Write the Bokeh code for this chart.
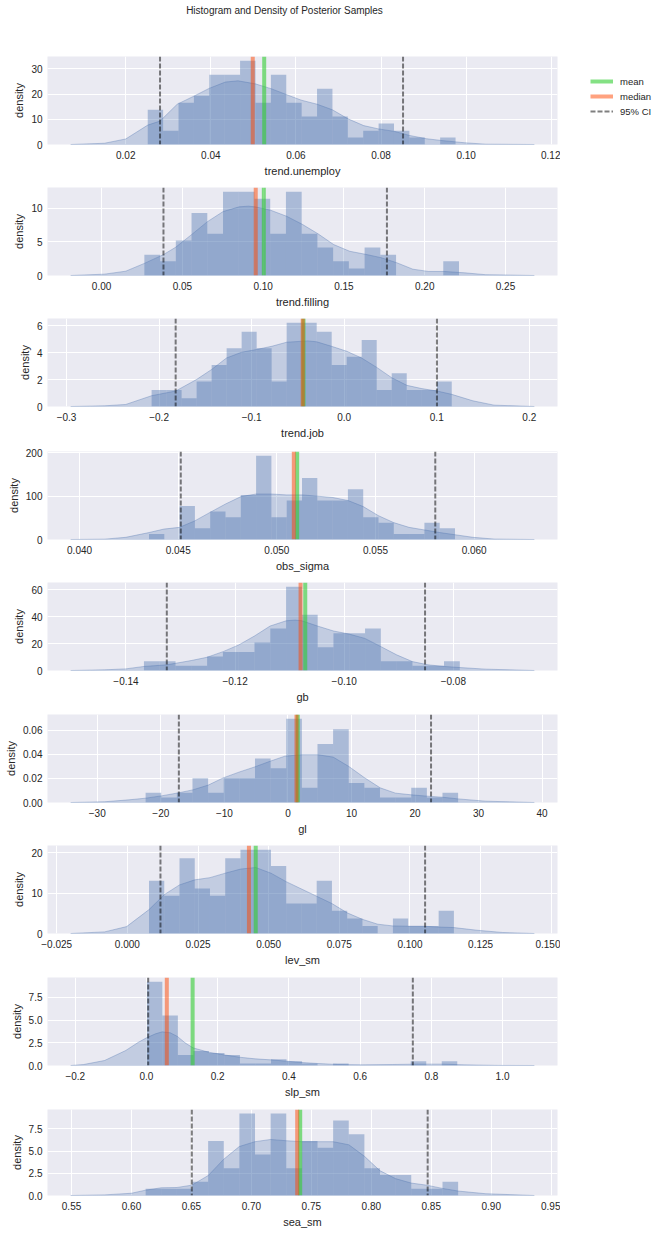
import numpy as np
from bokeh.plotting import figure
from bokeh.models import Range1d, FixedTicker, Span, Legend, LegendItem, Div
from bokeh.layouts import column, gridplot
from bokeh.embed import file_html
from bokeh.resources import INLINE

TITLE = "Histogram and Density of Posterior Samples"
PARAMS = ["trend.unemploy", "trend.filling", "trend.job", "obs_sigma", "gb",
          "gl", "lev_sm", "slp_sm", "sea_sm"]
LEGEND_LABELS = ["mean", "median", "95% CI"]
M = "\u2212"

# ---------- trend.unemploy ----------
unemploy_hist = [13.8, 5.5, 16.6, 19.4, 27.7, 27.7, 33.3, 16.6, 27.7, 16.6,
                 11.1, 22.2, 11.1, 2.8, 5.5, 8.3, 5.5, 2.8, 0.0, 2.8]
unemploy_range = [0.02517, 0.09751]
unemploy_kde_x = [0.00706, 0.01502, 0.0200, 0.02517, 0.02806, 0.0321, 0.03612, 0.03960,
                  0.04338, 0.04637, 0.05045, 0.05413, 0.05781, 0.06129, 0.06498, 0.06856,
                  0.07224, 0.07592, 0.07940, 0.08318, 0.08667, 0.09065, 0.09413, 0.09960,
                  0.10458, 0.11602]
unemploy_kde_y = [0.0, 0.5, 2.2, 7.7, 9.3, 16.0, 19.3, 22.3, 24.8, 25.3, 24.1, 22.2,
                  19.8, 17.6, 16.0, 13.8, 10.2, 7.5, 6.2, 5.2, 3.6, 2.3, 1.6, 0.7, 0.13, 0.0]
unemploy_stats = [0.05254, 0.04985, 0.02806, 0.08517]  # mean, median, ci low, ci high
unemploy_xticks = [0.02, 0.04, 0.06, 0.08, 0.10, 0.12]
unemploy_xlabels = ["0.02", "0.04", "0.06", "0.08", "0.10", "0.12"]
unemploy_yticks = [0, 10, 20, 30]
unemploy_ylabels = ["0", "10", "20", "30"]

# ---------- trend.filling ----------
filling_hist = [3.1, 2.1, 5.2, 9.3, 6.2, 12.45, 12.45, 11.4, 6.2, 12.45,
                6.2, 4.15, 2.1, 1.05, 4.15, 3.1, 0.0, 0.0, 0.0, 2.1]
filling_range = [0.02647, 0.2212]
filling_kde_x = [-0.01913, 0.00183, 0.01494, 0.02647, 0.03826, 0.04586, 0.05582, 0.06551,
                 0.07521, 0.08517, 0.0909, 0.09486, 0.10456, 0.11452, 0.12421, 0.13391,
                 0.14361, 0.15356, 0.16326, 0.17296, 0.18265, 0.19261, 0.20231, 0.21200,
                 0.22458, 0.23768, 0.26782]
filling_kde_y = [0.0, 0.2, 0.64, 1.8, 3.1, 4.2, 6.1, 8.0, 9.5, 10.2, 10.3, 10.2, 9.7, 8.8,
                 7.6, 6.2, 4.6, 3.6, 3.15, 2.65, 1.9, 0.94, 0.6, 0.6, 0.4, 0.12, 0.0]
filling_stats = [0.1004, 0.0954, 0.0383, 0.1766]
filling_xticks = [0.0, 0.05, 0.10, 0.15, 0.20, 0.25]
filling_xlabels = ["0.00", "0.05", "0.10", "0.15", "0.20", "0.25"]
filling_yticks = [0, 5, 10]
filling_ylabels = ["0", "5", "10"]

# ---------- trend.job ----------
job_hist = [1.23, 1.23, 0.62, 1.85, 3.08, 4.32, 5.55, 4.32, 1.85, 6.22,
            6.22, 5.55, 3.08, 3.70, 4.93, 1.23, 2.47, 1.23, 1.23, 1.85]
job_range = [-0.2081, 0.1162]
job_kde_x = [-0.29552, -0.25892, -0.23605, -0.20814, -0.18207, -0.15965, -0.14318, -0.12717,
             -0.11070, -0.09469, -0.07822, -0.06221, -0.03934, -0.02973, -0.01372, 0.00274,
             0.01876, 0.03522, 0.05124, 0.06770, 0.08371, 0.10018, 0.11619, 0.13907,
             0.16194, 0.20540]
job_kde_y = [0.0, 0.05, 0.15, 0.8, 1.15, 2.0, 2.75, 3.6, 4.03, 4.23, 4.47, 4.77, 4.87, 4.8,
             4.47, 4.1, 3.6, 2.9, 2.14, 1.57, 1.33, 1.15, 0.9, 0.42, 0.1, 0.0]
job_stats = [-0.0440, -0.0448, -0.1821, 0.1002]
job_xticks = [-0.3, -0.2, -0.1, 0.0, 0.1, 0.2]
job_xlabels = [M + "0.3", M + "0.2", M + "0.1", "0.0", "0.1", "0.2"]
job_yticks = [0, 2, 4, 6]
job_ylabels = ["0", "2", "4", "6"]

# ---------- obs_sigma ----------
sigma_hist = [12.9, 0.0, 77.3, 25.8, 64.5, 51.6, 103.0, 193.5, 51.6, 90.2,
              142.0, 90.2, 90.2, 116.0, 51.6, 38.7, 12.9, 12.9, 38.7, 25.8]
sigma_range = [0.04352, 0.05903]
sigma_kde_x = [0.03955, 0.04127, 0.04234, 0.04352, 0.04427, 0.04506, 0.04584, 0.04663,
               0.04740, 0.04818, 0.04895, 0.04972, 0.05049, 0.05127, 0.05206, 0.05283,
               0.05361, 0.05438, 0.05515, 0.05592, 0.05670, 0.05749, 0.05826, 0.05903,
               0.05994, 0.06101, 0.06305]
sigma_kde_y = [0.0, 0.8, 5.0, 16.0, 24.0, 28.0, 43.0, 63.0, 82.0, 99.0, 105.0, 105.0,
               103.0, 103.0, 100.0, 97.0, 90.0, 76.0, 55.0, 39.0, 28.0, 22.0, 16.0, 11.0,
               5.0, 1.0, 0.0]
sigma_stats = [0.05103, 0.05086, 0.04513, 0.05803]
sigma_xticks = [0.040, 0.045, 0.050, 0.055, 0.060]
sigma_xlabels = ["0.040", "0.045", "0.050", "0.055", "0.060"]
sigma_yticks = [0, 100, 200]
sigma_ylabels = ["0", "100", "200"]

# ---------- gb ----------
gb_hist = [6.9, 6.9, 3.5, 3.5, 10.4, 13.8, 13.8, 20.7, 31.1, 62.2,
           41.4, 17.3, 27.6, 27.6, 31.1, 6.9, 6.9, 3.5, 3.5, 6.9]
gb_range = [-0.13671, -0.07881]
gb_kde_x = [-0.15014, -0.14393, -0.14005, -0.13671, -0.13252, -0.12802, -0.12515, -0.12220,
            -0.11932, -0.11645, -0.11358, -0.11063, -0.10900, -0.10776, -0.10489, -0.10194,
            -0.09907, -0.09620, -0.09325, -0.09038, -0.08750, -0.08463, -0.08168, -0.07881,
            -0.07408, -0.06515]
gb_kde_y = [0.0, 0.5, 1.2, 3.0, 4.2, 7.4, 9.8, 14.0, 19.0, 25.6, 33.0, 36.9, 37.4, 36.9,
            33.0, 29.3, 27.0, 23.8, 17.7, 11.6, 6.6, 4.2, 3.0, 2.2, 1.0, 0.0]
gb_stats = [-0.10714, -0.10800, -0.13252, -0.08518]
gb_xticks = [-0.14, -0.12, -0.10, -0.08]
gb_xlabels = [M + "0.14", M + "0.12", M + "0.10", M + "0.08"]
gb_yticks = [0, 20, 40, 60]
gb_ylabels = ["0", "20", "40", "60"]

# ---------- gl ----------
gl_hist = [0.0081, 0.0041, 0.0081, 0.0203, 0.0081, 0.0203, 0.0203, 0.0366, 0.0285, 0.0698,
           0.0122, 0.0488, 0.0610, 0.0163, 0.0122, 0.0041, 0.0041, 0.0122, 0.0041, 0.0081]
gl_range = [-22.39, 26.78]
gl_kde_x = [-34.18, -28.85, -25.03, -22.39, -19.92, -17.16, -14.99, -12.53, -10.18, -7.59,
            -5.35, -2.73, -0.47, 2.20, 4.66, 7.13, 9.59, 12.06, 14.52, 16.92, 19.39, 21.85,
            24.32, 26.78, 31.11, 38.77]
gl_kde_y = [0.0, 0.0006, 0.0022, 0.0036, 0.0055, 0.0081, 0.0105, 0.0145, 0.0205, 0.0255,
            0.0294, 0.0345, 0.0386, 0.0398, 0.0398, 0.0378, 0.0300, 0.0206, 0.0122, 0.0078,
            0.0064, 0.0053, 0.0044, 0.0030, 0.0011, 0.0]
gl_stats = [1.55, 1.35, -17.16, 22.52]
gl_xticks = [-30, -20, -10, 0, 10, 20, 30, 40]
gl_xlabels = [M + "30", M + "20", M + "10", "0", "10", "20", "30", "40"]
gl_yticks = [0.0, 0.02, 0.04, 0.06]
gl_ylabels = ["0.00", "0.02", "0.04", "0.06"]

# ---------- lev_sm ----------
lev_hist = [13.0, 9.3, 18.6, 11.1, 9.3, 18.6, 20.7, 20.7, 16.7, 7.4,
            7.4, 13.0, 5.6, 3.7, 1.85, 0.0, 3.7, 1.85, 1.85, 5.6]
lev_range = [0.00766, 0.11555]
lev_kde_x = [-0.02006, -0.00807, -0.00028, 0.00766, 0.01306, 0.01845, 0.02385, 0.02924,
             0.03463, 0.04003, 0.04542, 0.05082, 0.05621, 0.06160, 0.06700, 0.07239,
             0.07779, 0.08318, 0.08858, 0.09397, 0.09936, 0.10476, 0.11015, 0.11555,
             0.12379, 0.13278, 0.14401]
lev_kde_y = [0.0, 0.4, 1.7, 5.9, 9.6, 12.0, 13.25, 13.8, 14.9, 15.9, 16.3, 14.9, 12.8,
             11.0, 9.2, 7.4, 5.1, 3.5, 2.3, 1.87, 1.8, 1.8, 1.6, 1.46, 0.8, 0.25, 0.0]
lev_stats = [0.04542, 0.04302, 0.01171, 0.10536]
lev_xticks = [-0.025, 0.0, 0.025, 0.050, 0.075, 0.100, 0.125, 0.150]
lev_xlabels = [M + "0.025", "0.000", "0.025", "0.050", "0.075", "0.100", "0.125", "0.150"]
lev_yticks = [0, 10, 20]
lev_ylabels = ["0", "10", "20"]

# ---------- slp_sm ----------
slp_hist = [9.22, 5.5, 1.15, 1.6, 1.37, 1.15, 0.23, 0.23, 0.69, 0.46,
            0.23, 0.0, 0.23, 0.0, 0.0, 0.0, 0.0, 0.46, 0.0, 0.46]
slp_range = [0.001, 0.8728]
slp_kde_x = [-0.21284, -0.17717, -0.11772, -0.05826, -0.02259, 0.0, 0.02497, 0.04400,
             0.06659, 0.08680, 0.10820, 0.13080, 0.17479, 0.21760, 0.26159, 0.30559,
             0.34958, 0.39239, 0.43639, 0.48038, 0.53627, 0.60761, 0.69084, 0.76219,
             0.83353, 0.89298, 0.98811, 1.08918]
slp_kde_y = [0.0, 0.1, 0.55, 1.65, 2.56, 3.04, 3.48, 3.7, 3.6, 3.2, 2.5, 1.94, 1.46, 1.17,
             0.91, 0.73, 0.62, 0.48, 0.33, 0.22, 0.11, 0.07, 0.11, 0.15, 0.15, 0.07, 0.01, 0.0]
slp_stats = [0.1296, 0.0571, 0.0048, 0.748]
slp_xticks = [-0.2, 0.0, 0.2, 0.4, 0.6, 0.8, 1.0]
slp_xlabels = [M + "0.2", "0.0", "0.2", "0.4", "0.6", "0.8", "1.0"]
slp_yticks = [0.0, 2.5, 5.0, 7.5]
slp_ylabels = ["0.0", "2.5", "5.0", "7.5"]

# ---------- sea_sm ----------
sea_hist = [0.77, 0.77, 0.77, 1.54, 6.14, 3.07, 9.21, 4.6, 9.21, 3.07,
            6.14, 5.37, 8.44, 6.9, 3.07, 2.3, 2.3, 0.77, 0.77, 1.54]
sea_range = [0.6118, 0.8724]
sea_kde_x = [0.54929, 0.57754, 0.59979, 0.61179, 0.62486, 0.63792, 0.65028, 0.66405,
             0.67677, 0.68983, 0.70290, 0.71596, 0.72903, 0.74209, 0.75516, 0.76822,
             0.78129, 0.79435, 0.80706, 0.82013, 0.83319, 0.84626, 0.85932, 0.87239,
             0.89534, 0.93594]
sea_kde_y = [0.0, 0.07, 0.25, 0.6, 0.87, 0.9, 1.16, 2.25, 4.06, 5.5, 6.05, 6.3, 6.16,
             6.05, 6.05, 6.05, 5.7, 4.4, 2.8, 1.9, 1.4, 1.16, 0.8, 0.5, 0.2, 0.0]
sea_stats = [0.7407, 0.7382, 0.6503, 0.8470]
sea_xticks = [0.55, 0.60, 0.65, 0.70, 0.75, 0.80, 0.85, 0.90, 0.95]
sea_xlabels = ["0.55", "0.60", "0.65", "0.70", "0.75", "0.80", "0.85", "0.90", "0.95"]
sea_yticks = [0.0, 2.5, 5.0, 7.5]
sea_ylabels = ["0.0", "2.5", "5.0", "7.5"]

PANELS = [
    (unemploy_hist, unemploy_range, unemploy_kde_x, unemploy_kde_y, unemploy_stats,
     unemploy_xticks, unemploy_xlabels, unemploy_yticks, unemploy_ylabels),
    (filling_hist, filling_range, filling_kde_x, filling_kde_y, filling_stats,
     filling_xticks, filling_xlabels, filling_yticks, filling_ylabels),
    (job_hist, job_range, job_kde_x, job_kde_y, job_stats,
     job_xticks, job_xlabels, job_yticks, job_ylabels),
    (sigma_hist, sigma_range, sigma_kde_x, sigma_kde_y, sigma_stats,
     sigma_xticks, sigma_xlabels, sigma_yticks, sigma_ylabels),
    (gb_hist, gb_range, gb_kde_x, gb_kde_y, gb_stats,
     gb_xticks, gb_xlabels, gb_yticks, gb_ylabels),
    (gl_hist, gl_range, gl_kde_x, gl_kde_y, gl_stats,
     gl_xticks, gl_xlabels, gl_yticks, gl_ylabels),
    (lev_hist, lev_range, lev_kde_x, lev_kde_y, lev_stats,
     lev_xticks, lev_xlabels, lev_yticks, lev_ylabels),
    (slp_hist, slp_range, slp_kde_x, slp_kde_y, slp_stats,
     slp_xticks, slp_xlabels, slp_yticks, slp_ylabels),
    (sea_hist, sea_range, sea_kde_x, sea_kde_y, sea_stats,
     sea_xticks, sea_xlabels, sea_yticks, sea_ylabels),
]

# ---------- style ----------
FONT = "Liberation Sans"
TXT = "#262626"
BG = "#eaeaf2"
C0 = "#4c72b0"
MEAN_C = "#32cd32"
MEDIAN_C = "#ff4500"
MEAN_A = 0.6
MEDIAN_A = 0.5
CI_C = "black"
CI_A = 0.5
CI_DASH = "5 2"
HEIGHTS = [131, 131, 133, 131, 132, 131, 132, 132, 127]
W_MAIN = 560
W_LEG = 100
LEFT = 47
FRAME_W = 510


def style_axes(p):
    for ax in (p.xaxis, p.yaxis):
        ax.axis_line_color = None
        ax.major_tick_line_color = None
        ax.minor_tick_line_color = None
        ax.major_tick_out = 0
        ax.major_tick_in = 0
        ax.major_label_text_font = FONT
        ax.major_label_text_font_size = "10px"
        ax.major_label_text_color = TXT
        ax.axis_label_text_font = FONT
        ax.axis_label_text_font_size = "11px"
        ax.axis_label_text_font_style = "normal"
        ax.axis_label_text_color = TXT
    p.xaxis.major_label_standoff = 6
    p.yaxis.major_label_standoff = 5
    p.xaxis.axis_label_standoff = 3
    p.yaxis.axis_label_standoff = 3
    p.grid.grid_line_color = "white"
    p.grid.grid_line_width = 1


figs = []
for i, (name, panel) in enumerate(zip(PARAMS, PANELS)):
    hist, hrange, kx, ky, stats, xt, xl, yt, yl = panel
    span = kx[-1] - kx[0]
    ytop = 1.05 * max(max(hist), max(ky))
    h = HEIGHTS[i]
    p = figure(width=W_MAIN, height=h, output_backend="svg", toolbar_location=None,
               x_range=Range1d(kx[0] - 0.05 * span, kx[-1] + 0.05 * span),
               y_range=Range1d(0, ytop),
               min_border_left=LEFT, min_border_right=W_MAIN - LEFT - FRAME_W,
               min_border_top=6, min_border_bottom=h - 94,
               background_fill_color=BG, border_fill_color="white",
               outline_line_color=None)
    p.xaxis.axis_label = name
    p.yaxis.axis_label = "density"
    p.xaxis.ticker = FixedTicker(ticks=xt)
    p.yaxis.ticker = FixedTicker(ticks=yt)
    p.xaxis.major_label_overrides = dict(zip(xt, xl))
    p.yaxis.major_label_overrides = dict(zip(yt, yl))
    style_axes(p)

    edges = np.linspace(hrange[0], hrange[1], len(hist) + 1)
    p.quad(left=edges[:-1], right=edges[1:], bottom=0, top=hist,
           fill_color=C0, fill_alpha=0.4, line_color=None)
    px = list(kx) + [kx[-1], kx[0]]
    py = list(ky) + [0.0, 0.0]
    p.patch(px, py, fill_color=C0, fill_alpha=0.25,
            line_color=C0, line_alpha=0.35, line_width=1)

    mean, median, lo, hi = stats
    p.add_layout(Span(location=mean, dimension="height", line_color=MEAN_C,
                      line_alpha=MEAN_A, line_width=4))
    p.add_layout(Span(location=median, dimension="height", line_color=MEDIAN_C,
                      line_alpha=MEDIAN_A, line_width=4))
    for c in (lo, hi):
        p.add_layout(Span(location=c, dimension="height", line_color=CI_C,
                          line_alpha=CI_A, line_width=2, line_dash=CI_DASH))
    figs.append(p)

# ---------- legend panel (beside the first subplot) ----------
h0 = HEIGHTS[0]
lp = figure(width=W_LEG, height=h0, output_backend="svg", toolbar_location=None,
            x_range=Range1d(0, 1), y_range=Range1d(0, 1),
            x_axis_location=None, y_axis_location=None,
            min_border_left=0, min_border_right=0,
            min_border_top=6, min_border_bottom=h0 - 94,
            background_fill_color="white", border_fill_color="white",
            outline_line_color=None)
lp.grid.visible = False
hidden = dict(x=[-5, -4], y=[-5, -4])
r1 = lp.line(line_color=MEAN_C, line_alpha=MEAN_A, line_width=4, **hidden)
r2 = lp.line(line_color=MEDIAN_C, line_alpha=MEDIAN_A, line_width=4, **hidden)
r3 = lp.line(line_color=CI_C, line_alpha=CI_A, line_width=2, line_dash=CI_DASH, **hidden)
leg = Legend(items=[LegendItem(label=LEGEND_LABELS[0], renderers=[r1]),
                    LegendItem(label=LEGEND_LABELS[1], renderers=[r2]),
                    LegendItem(label=LEGEND_LABELS[2], renderers=[r3])],
             location=(25, 22), padding=5, spacing=3, margin=0,
             glyph_width=23, glyph_height=12, label_height=12,
             label_standoff=7, label_text_font=FONT,
             label_text_font_size="9.5px", label_text_color=TXT,
             border_line_alpha=0, background_fill_alpha=0)
lp.add_layout(leg, "center")

rows = [[figs[0], lp]] + [[f, None] for f in figs[1:]]
grid = gridplot(rows, toolbar_location=None)

title_div = Div(text=TITLE, width=569, height=50, margin=0,
                styles={"font-family": FONT, "font-size": "10px", "color": TXT,
                        "text-align": "center", "line-height": "21px"})

layout = column(title_div, grid, spacing=0)
open("out.html", "w").write(file_html(layout, INLINE, TITLE))
